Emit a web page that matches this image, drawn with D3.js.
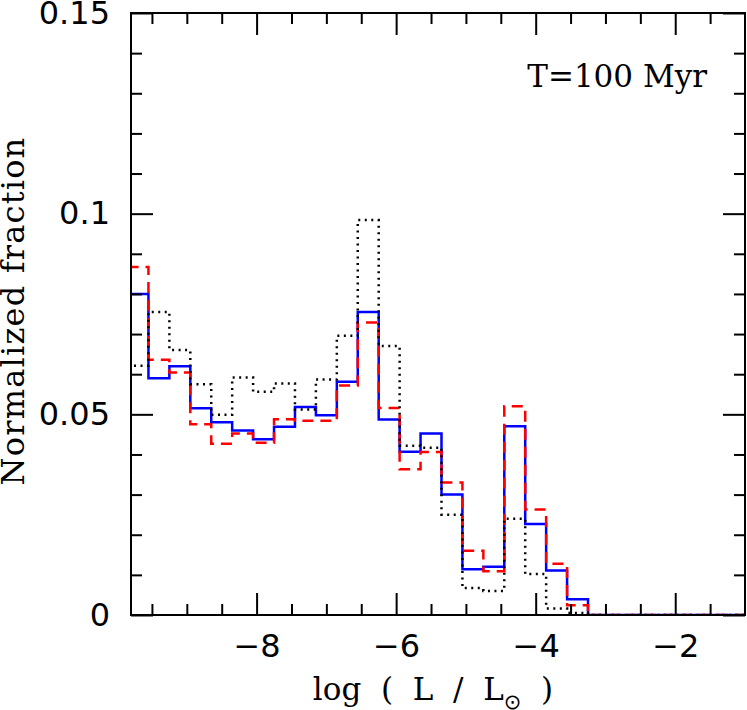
<!DOCTYPE html>
<html>
<head>
<meta charset="utf-8">
<script src="https://cdn.jsdelivr.net/npm/d3@7/dist/d3.min.js"></script>
<style>
  body { margin: 0; background: #fff; }
  text { white-space: pre; }
</style>
</head>
<body>
<div id="chart"></div>
<script>
// bin centres in log(L/Lsun), each bin is 0.3 wide
const binCenters = [-9.7, -9.4, -9.1, -8.8, -8.5, -8.2, -7.9, -7.6, -7.3, -7.0, -6.7,
                    -6.4, -6.1, -5.8, -5.5, -5.2, -4.9, -4.6, -4.3, -4.0, -3.7, -3.4];
const binWidth = 0.3;

const blueSolid = [0.0800, 0.0590, 0.0620, 0.0515, 0.0480, 0.0460, 0.0438, 0.0469, 0.0518, 0.0498, 0.0581,
                   0.0755, 0.0487, 0.0407, 0.0452, 0.0300, 0.0114, 0.0120, 0.0470, 0.0227, 0.0111, 0.0039];
const redDashed = [0.0867, 0.0636, 0.0604, 0.0475, 0.0427, 0.0452, 0.0429, 0.0488, 0.0484, 0.0484, 0.0572,
                   0.0729, 0.0516, 0.0363, 0.0406, 0.0330, 0.0160, 0.0109, 0.0520, 0.0263, 0.0128, 0.0024];
const blackDotted = [0.0621, 0.0755, 0.0660, 0.0575, 0.0499, 0.0592, 0.0556, 0.0577, 0.0512, 0.0587, 0.0696,
                     0.0984, 0.0670, 0.0422, 0.0417, 0.0250, 0.0067, 0.0060, 0.0240, 0.0102, 0.0016, 0.0005];

const xMajorTicks = [-8, -6, -4, -2];
const yMajorTicks = [0, 0.05, 0.1, 0.15];
const yTickLabels = ["0", "0.05", "0.1", "0.15"];

const chart = {
    width: 747,
    height: 710,
    margin: { left: 131, right: 2, top: 13, bottom: 95 }
};
chart.innerWidth = chart.width - chart.margin.left - chart.margin.right;
chart.innerHeight = chart.height - chart.margin.top - chart.margin.bottom;

const svg = d3.select("#chart")
    .append("svg")
    .attr("width", chart.width)
    .attr("height", chart.height)
    .append("g")
    .attr("transform", `translate(${chart.margin.left}, ${chart.margin.top})`);

const x = d3.scaleLinear().domain([-9.8, -1.0]).range([0, chart.innerWidth]);
const y = d3.scaleLinear().domain([0, 0.15]).range([chart.innerHeight, 0]);

svg.append("clipPath").attr("id", "plotclip")
    .append("rect")
    .attr("width", chart.innerWidth)
    .attr("height", chart.innerHeight);

// Builds step outline of a histogram
const stepPoints = vals => {
    const pts = [];
    vals.forEach((v, i) => {
        pts.push([binCenters[i] - binWidth / 2, v]);
        pts.push([binCenters[i] + binWidth / 2, v]);
    });
    const last = binCenters[binCenters.length - 1] + binWidth / 2;
    pts.push([last, 0]);
    pts.push([x.domain()[1], 0]);
    return pts;
};

const line = d3.line().x(d => x(d[0])).y(d => y(d[1]));
const histRef = svg.append("g").attr("clip-path", "url(#plotclip)");

const series = [
    { vals: blueSolid, color: "#0000ff", dash: null },
    { vals: redDashed, color: "#ff0000", dash: "11,7" },
    { vals: blackDotted, color: "#000000", dash: "2,4.5" }
];
series.forEach(s => {
    histRef.append("path")
        .attr("d", line(stepPoints(s.vals)))
        .attr("fill", "none")
        .attr("stroke", s.color)
        .attr("stroke-width", 2.5)
        .attr("stroke-dasharray", s.dash);
});

// Axes: ticks point inwards on all four sides
const xMinor = d3.range(-9.5, -1.0, 0.5).filter(v => !xMajorTicks.includes(v));
const yMinor = d3.range(0.01, 0.15, 0.01).filter(v => Math.abs(v - 0.05) > 1e-6 && Math.abs(v - 0.1) > 1e-6);

const styleAxis = g => {
    g.select(".domain").remove();
    g.selectAll("line").attr("stroke", "#000").attr("stroke-width", 2);
    g.selectAll("text")
        .attr("fill", "#000")
        .style("font-family", "'DejaVu Sans', sans-serif")
        .style("font-size", "32px");
};

svg.append("g")
    .attr("transform", `translate(0, ${chart.innerHeight})`)
    .call(d3.axisBottom(x).tickValues(xMajorTicks).tickSize(-22).tickPadding(19))
    .call(styleAxis);
svg.append("g")
    .attr("transform", `translate(0, ${chart.innerHeight})`)
    .call(d3.axisBottom(x).tickValues(xMinor).tickSize(-11).tickFormat(""))
    .call(styleAxis);
svg.append("g")
    .call(d3.axisTop(x).tickValues(xMajorTicks).tickSize(-22).tickFormat(""))
    .call(styleAxis);
svg.append("g")
    .call(d3.axisTop(x).tickValues(xMinor).tickSize(-11).tickFormat(""))
    .call(styleAxis);

svg.append("g")
    .call(d3.axisLeft(y).tickValues(yMajorTicks).tickSize(-22).tickPadding(21)
        .tickFormat((d, i) => yTickLabels[i]))
    .call(styleAxis);
svg.append("g")
    .call(d3.axisLeft(y).tickValues(yMinor).tickSize(-11).tickFormat(""))
    .call(styleAxis);
svg.append("g")
    .attr("transform", `translate(${chart.innerWidth}, 0)`)
    .call(d3.axisRight(y).tickValues(yMajorTicks).tickSize(-22).tickFormat(""))
    .call(styleAxis);
svg.append("g")
    .attr("transform", `translate(${chart.innerWidth}, 0)`)
    .call(d3.axisRight(y).tickValues(yMinor).tickSize(-11).tickFormat(""))
    .call(styleAxis);

// Frame
svg.append("rect")
    .attr("width", chart.innerWidth)
    .attr("height", chart.innerHeight)
    .attr("fill", "none")
    .attr("stroke", "#000")
    .attr("stroke-width", 2);

const serif = "'DejaVu Serif', serif";

// Axis titles
const xTitle = svg.append("text")
    .attr("x", 433 - chart.margin.left)
    .attr("y", 700 - chart.margin.top)
    .attr("text-anchor", "middle")
    .style("font-family", serif)
    .style("font-size", "31px")
    .attr("fill", "#000");
xTitle.append("tspan").text("log  (  L  /  L");
xTitle.append("tspan").text("\u2299").style("font-family", "'DejaVu Sans', sans-serif")
    .style("font-size", "21px").attr("dy", 9);
xTitle.append("tspan").text("  )").attr("dy", -9);

svg.append("text")
    .attr("transform", `translate(${24 - chart.margin.left}, ${311 - chart.margin.top}) rotate(-90)`)
    .attr("text-anchor", "middle")
    .style("font-family", serif)
    .style("font-size", "32px")
    .style("letter-spacing", "1.2px")
    .attr("fill", "#000")
    .text("Normalized fraction");

// Age label
svg.append("text")
    .attr("x", 707 - chart.margin.left)
    .attr("y", 87 - chart.margin.top)
    .attr("text-anchor", "end")
    .style("font-family", serif)
    .style("font-size", "31px")
    .attr("fill", "#000")
    .text("T=100 Myr");
</script>
</body>
</html>
